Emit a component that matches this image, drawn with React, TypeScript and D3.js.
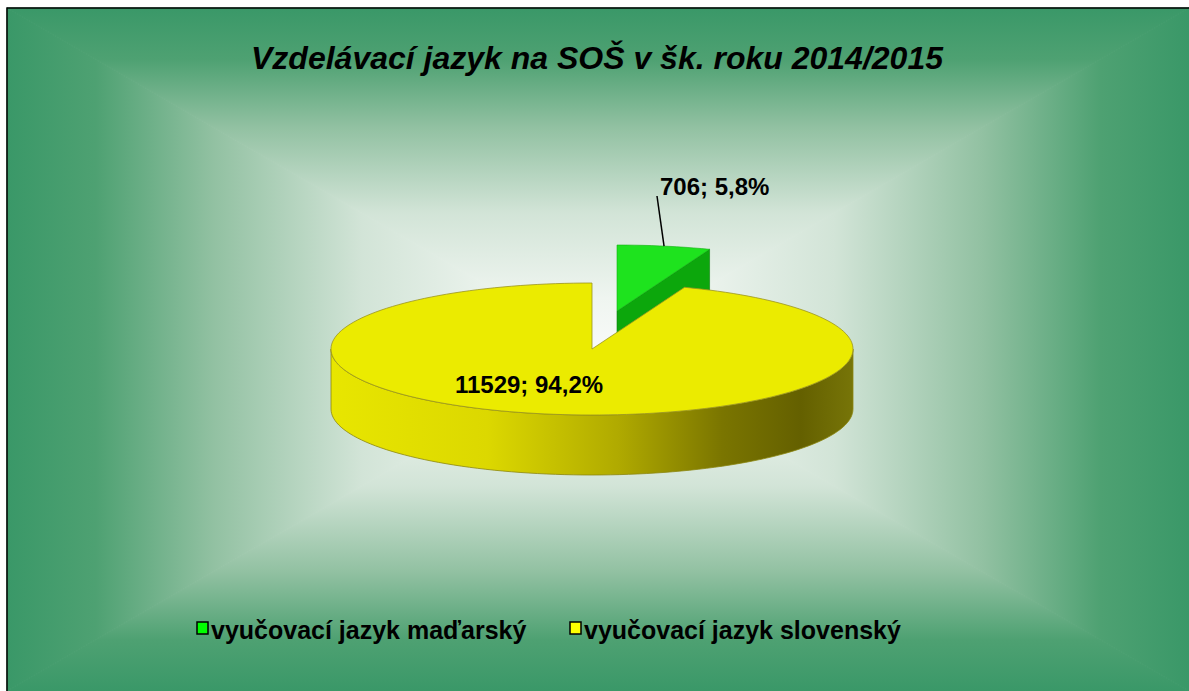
import * as d3 from 'd3';

// chart data
const categories = ['vyučovací jazyk maďarský', 'vyučovací jazyk slovenský'];
const values = [706, 11529];
const topColors = ['#1ee31e', '#ebeb00'];
const sideColors = ['#0ca70c', '#c8c200'];
const legendColors = ['#00ff00', '#ffff00'];
const title = 'Vzdelávací jazyk na SOŠ v šk. roku 2014/2015';

const W = 1189;
const H = 691;
const frame = { x0: 7, y0: 8, x1: 1189, y1: 691 };
const fcx = (frame.x0 + frame.x1) / 2;
const fcy = (frame.y0 + frame.y1) / 2;

// 3d pie geometry
const cx = 592;
const cy = 349;
const rx = 261;
const ry = 66;
const depth = 60;
const explode = [25, -38];

const font = '"Liberation Sans", Arial, sans-serif';

// rectangular "from centre" fill: green edges, near-white middle
const bgStops: [number, string][] = [
  [0, '#3a9868'],
  [0.15, '#4ea172'],
  [0.35, '#92c1a2'],
  [0.6, '#d2e4d7'],
  [0.85, '#eff5f0'],
  [1, '#f8faf8'],
];

export default function App() {
  const total = d3.sum(values);
  const pct = (v: number) => d3.format('.1f')((v / total) * 100).replace('.', ',') + '%';
  const arcs = d3.pie<number>().sort(null)(values);

  const pt = (a: number, dx = 0, dy = 0): [number, number] => [
    cx + dx + rx * Math.sin(a),
    cy + dy - ry * Math.cos(a),
  ];
  const line = d3.line<[number, number]>();
  const sample = (a0: number, a1: number) => {
    const n = Math.max(2, Math.ceil(((a1 - a0) / (Math.PI * 2)) * 180));
    return d3.range(n + 1).map((i) => a0 + ((a1 - a0) * i) / n);
  };

  const offsetOf = (i: number) => (i === 0 ? explode : [0, 0]);

  const topPath = (i: number) => {
    const a = arcs[i];
    const [dx, dy] = offsetOf(i);
    const pts: [number, number][] = [[cx + dx, cy + dy], ...sample(a.startAngle, a.endAngle).map((t) => pt(t, dx, dy))];
    return line(pts) + 'Z';
  };

  // front outer wall (only the part facing the viewer)
  const wallPath = (i: number) => {
    const a = arcs[i];
    const [dx, dy] = offsetOf(i);
    const a0 = Math.max(a.startAngle, Math.PI / 2);
    const a1 = Math.min(a.endAngle, (Math.PI * 3) / 2);
    if (a1 <= a0) return null;
    const s = sample(a0, a1);
    const pts = [...s.map((t) => pt(t, dx, dy)), ...s.reverse().map((t) => pt(t, dx, dy + depth))];
    return line(pts) + 'Z';
  };

  // radial face at the end of the exploded slice
  const cutPath = (i: number) => {
    const a = arcs[i];
    const [dx, dy] = offsetOf(i);
    const c: [number, number] = [cx + dx, cy + dy];
    const o = pt(a.endAngle, dx, dy);
    return line([c, o, [o[0], o[1] + depth], [c[0], c[1] + depth]]) + 'Z';
  };

  const gMid = (arcs[0].startAngle + arcs[0].endAngle) / 2;
  const leaderEnd = pt(gMid, explode[0], explode[1]);

  const tris = [
    { id: 'bgT', pts: [[frame.x0, frame.y0], [frame.x1, frame.y0], [fcx, fcy]], g: [fcx, frame.y0, fcx, fcy] },
    { id: 'bgB', pts: [[frame.x0, frame.y1], [frame.x1, frame.y1], [fcx, fcy]], g: [fcx, frame.y1, fcx, fcy] },
    { id: 'bgL', pts: [[frame.x0, frame.y0], [frame.x0, frame.y1], [fcx, fcy]], g: [frame.x0, fcy, fcx, fcy] },
    { id: 'bgR', pts: [[frame.x1, frame.y0], [frame.x1, frame.y1], [fcx, fcy]], g: [frame.x1, fcy, fcx, fcy] },
  ];

  const legendX = [197, 570];
  const legendY = 622;

  return (
    <svg width={W} height={H} style={{ position: 'absolute', left: 0, top: 0, background: '#fff' }}>
      <defs>
        {tris.map((t) => (
          <linearGradient key={t.id} id={t.id} gradientUnits="userSpaceOnUse" x1={t.g[0]} y1={t.g[1]} x2={t.g[2]} y2={t.g[3]}>
            {bgStops.map(([o, c]) => (
              <stop key={o} offset={o} stopColor={c} />
            ))}
          </linearGradient>
        ))}
        <linearGradient id="wallY" gradientUnits="userSpaceOnUse" x1={cx - rx} y1={0} x2={cx + rx} y2={0}>
          <stop offset={0} stopColor="#e8e600" />
          <stop offset={0.3} stopColor="#dcd800" />
          <stop offset={0.55} stopColor="#b0aa00" />
          <stop offset={0.75} stopColor="#7a7500" />
          <stop offset={0.9} stopColor="#646000" />
          <stop offset={1} stopColor="#777508" />
        </linearGradient>
      </defs>

      {tris.map((t) => (
        <path key={t.id} d={line(t.pts as [number, number][]) + 'Z'} fill={`url(#${t.id})`} stroke={`url(#${t.id})`} strokeWidth={1} />
      ))}
      <path d={`M${frame.x0},${frame.y1}V${frame.y0}H${frame.x1}`} fill="none" stroke="#000" strokeWidth={1.5} />

      <text x={597} y={69} textAnchor="middle" fontFamily={font} fontSize={32} fontWeight="bold" fontStyle="italic">
        {title}
      </text>

      {/* exploded small slice, drawn behind */}
      <path d={cutPath(0)} fill={sideColors[0]} stroke="#0a800a" strokeWidth={0.6} />
      <path d={topPath(0)} fill={topColors[0]} stroke="#12b012" strokeWidth={0.6} />

      {/* big slice */}
      {wallPath(1) && <path d={wallPath(1)!} fill="url(#wallY)" stroke="#8c8710" strokeWidth={0.8} />}
      <path d={topPath(1)} fill={topColors[1]} stroke="#9a9420" strokeWidth={0.8} />

      <line x1={657} y1={196} x2={leaderEnd[0]} y2={leaderEnd[1]} stroke="#000" strokeWidth={1.5} />
      <text x={660} y={195} fontFamily={font} fontSize={24} fontWeight="bold">
        {`${values[0]}; ${pct(values[0])}`}
      </text>
      <text x={529} y={393} textAnchor="middle" fontFamily={font} fontSize={24} fontWeight="bold">
        {`${values[1]}; ${pct(values[1])}`}
      </text>

      {categories.map((c, i) => (
        <g key={c}>
          <rect x={legendX[i]} y={legendY} width={11} height={12} fill={legendColors[i]} stroke="#000" strokeWidth={1.5} />
          <text x={legendX[i] + 14} y={legendY + 17} fontFamily={font} fontSize={25} fontWeight="bold">
            {c}
          </text>
        </g>
      ))}
    </svg>
  );
}
